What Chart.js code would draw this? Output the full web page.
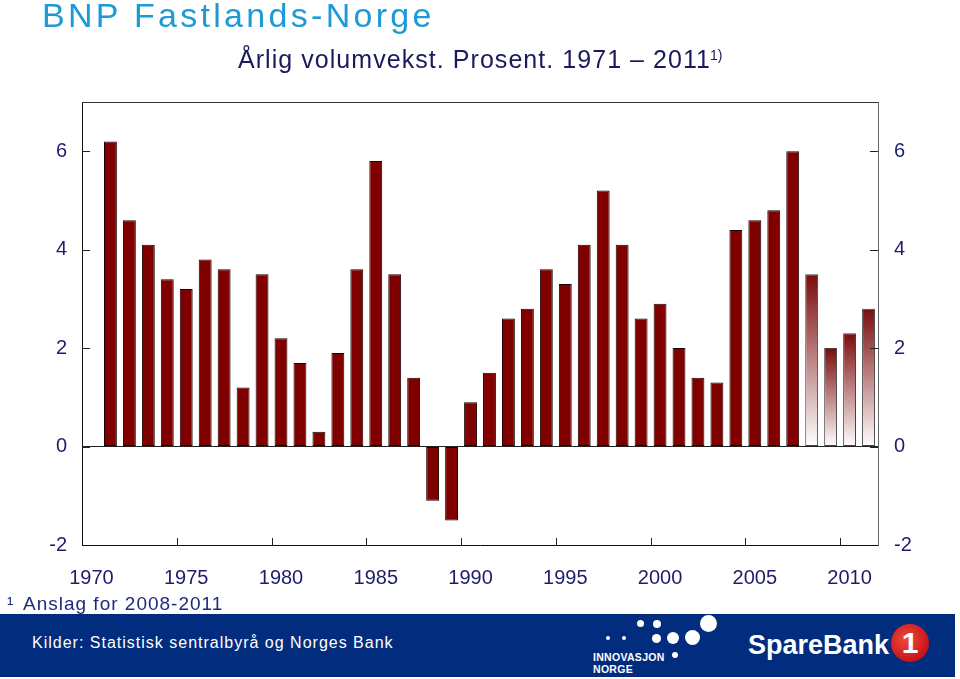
<!DOCTYPE html>
<html>
<head>
<meta charset="utf-8">
<script src="https://cdn.jsdelivr.net/npm/chart.js@4.4.1/dist/chart.umd.min.js"></script>
<style>
  html, body { margin: 0; padding: 0; background: #fff; }
  #wrap { position: relative; width: 960px; height: 679px; overflow: hidden; background: #fff; }
  #c { position: absolute; left: 0; top: 0; }
  .t { position: absolute; white-space: nowrap; font-family: "Liberation Sans", Arial, sans-serif; line-height: 1; }
  #title { left: 42px; top: -2px; font-size: 34px; color: #1c9ad6; letter-spacing: 3.3px; }
  #sub { left: 238px; top: 47px; font-size: 25px; color: #1a1a5c; letter-spacing: 1.05px; }
  #sup { left: 710px; top: 48px; font-size: 14px; color: #1a1a5c; }
  #foot1 { left: 7px; top: 594px; font-size: 19px; color: #1b2c7c; }
  #foot2 { left: 23px; top: 594px; font-size: 19px; color: #1b2c7c; letter-spacing: 1px; }
  #band { position: absolute; left: 0; top: 614px; width: 955px; height: 63px; background: #022c7e; }
  #src { left: 32px; top: 635px; font-size: 16px; color: #fff; letter-spacing: 1px; }
  .dot { position: absolute; background: #fff; border-radius: 50%; }
  #inno1 { left: 593px; top: 652px; font-size: 10.5px; font-weight: bold; color: #fff; letter-spacing: 0.3px; }
  #inno2 { left: 593px; top: 664px; font-size: 10.5px; font-weight: bold; color: #fff; letter-spacing: 0.3px; }
  #spare { left: 748px; top: 632px; font-size: 27px; font-weight: bold; color: #fff; }
  #one { position: absolute; left: 891px; top: 624px; width: 38px; height: 38px; border-radius: 50%;
         background: radial-gradient(circle at 40% 40%, #f04a3a, #c8141a 70%, #a50f14);
         color: #fff; font-family: "Liberation Sans", Arial, sans-serif; font-weight: bold; font-size: 30px;
         text-align: center; line-height: 38px; }
</style>
</head>
<body>
<div id="wrap">
  <canvas id="c" width="960" height="679"></canvas>
  <div class="t" id="title">BNP Fastlands-Norge</div>
  <div class="t" id="sub">Årlig volumvekst. Prosent. 1971 – 2011</div>
  <div class="t" id="sup">1)</div>
  <div class="t" id="foot1">¹</div>
  <div class="t" id="foot2">Anslag for 2008-2011</div>
  <div id="band"></div>
  <div class="t" id="src">Kilder: Statistisk sentralbyrå og Norges Bank</div>
  <div class="dot" style="left:606px;top:636px;width:4px;height:4px"></div>
  <div class="dot" style="left:622px;top:636px;width:4px;height:4px"></div>
  <div class="dot" style="left:637px;top:620px;width:7px;height:7px"></div>
  <div class="dot" style="left:653px;top:620px;width:8px;height:8px"></div>
  <div class="dot" style="left:652px;top:634px;width:9px;height:9px"></div>
  <div class="dot" style="left:667px;top:632px;width:12px;height:12px"></div>
  <div class="dot" style="left:685px;top:630px;width:15px;height:15px"></div>
  <div class="dot" style="left:700px;top:615px;width:17px;height:17px"></div>
  <div class="dot" style="left:672px;top:652px;width:6px;height:6px"></div>
  <div class="t" id="inno1">INNOVASJON</div>
  <div class="t" id="inno2">NORGE</div>
  <div class="t" id="spare">SpareBank</div>
  <div id="one">1</div>
</div>
<script>
// ---- data ----
const years = [];
for (let y = 1970; y <= 2011; y++) years.push(y);
const growth = [null,
  6.2, 4.6, 4.1, 3.4, 3.2,
  3.8, 3.6, 1.2, 3.5, 2.2,
  1.7, 0.3, 1.9, 3.6, 5.8,
  3.5, 1.4, -1.1, -1.5, 0.9,
  1.5, 2.6, 2.8, 3.6, 3.3,
  4.1, 5.2, 4.1, 2.6, 2.9,
  2.0, 1.4, 1.3, 4.4, 4.6,
  4.8, 6.0, 3.5, 2.0, 2.3,
  2.8];
const estimateYears = [2008, 2009, 2010, 2011];
const yTicks = [-2, 0, 2, 4, 6];

const tickFont = { family: '"Liberation Sans Narrow", "Arial Narrow", "Liberation Sans", Arial, sans-serif', size: 20 };
const tickColor = '#1d1d6b';

function barFill(ctx) {
  const i = ctx.dataIndex;
  if (!estimateYears.includes(years[i])) return '#800000';
  const chart = ctx.chart;
  const ys = chart.scales && chart.scales.y;
  if (!ys || !chart.chartArea || growth[i] == null) return '#800000';
  const top = ys.getPixelForValue(growth[i]);
  const bot = ys.getPixelForValue(0);
  const g = chart.ctx.createLinearGradient(0, top, 0, bot);
  g.addColorStop(0, '#7a0c0c');
  g.addColorStop(1, '#ffffff');
  return g;
}

const framePlugin = {
  id: 'frame',
  afterDraw(chart) {
    const { ctx, chartArea: a, scales } = chart;
    ctx.save();
    ctx.lineWidth = 1;
    ctx.strokeStyle = '#333';
    ctx.beginPath();
    ctx.moveTo(a.left, a.top + 0.5);
    ctx.lineTo(a.right, a.top + 0.5);
    ctx.stroke();
    ctx.strokeStyle = '#222';
    yTicks.forEach(v => {
      if (v === -2) return;
      const p = Math.round(scales.y.getPixelForValue(v)) + 0.5;
      ctx.beginPath();
      ctx.moveTo(a.left, p); ctx.lineTo(a.left + 8, p);
      ctx.moveTo(a.right, p); ctx.lineTo(a.right - 8, p);
      ctx.stroke();
    });
    years.forEach((yr, i) => {
      if (i === 0 || yr % 5 !== 0) return;
      const p = Math.round((scales.x.getPixelForValue(i) + scales.x.getPixelForValue(i - 1)) / 2) + 0.5;
      ctx.beginPath();
      ctx.moveTo(p, a.bottom); ctx.lineTo(p, a.bottom - 7);
      ctx.stroke();
    });
    ctx.restore();
  }
};

new Chart(document.getElementById('c'), {
  type: 'bar',
  data: {
    labels: years.map(String),
    datasets: [{
      data: growth,
      backgroundColor: barFill,
      borderColor: ctx => estimateYears.includes(years[ctx.dataIndex]) ? '#444' : '#1a0000',
      borderWidth: 1,
      borderSkipped: false,
      barPercentage: 0.68,
      categoryPercentage: 1.0
    }]
  },
  options: {
    responsive: false,
    animation: false,
    devicePixelRatio: 1,
    layout: { padding: { top: 102, left: 0, right: 0, bottom: 94 } },
    plugins: { legend: { display: false }, tooltip: { enabled: false }, title: { display: false } },
    scales: {
      x: {
        type: 'category',
        offset: true,
        grid: { display: false, drawTicks: false },
        border: { display: true, color: '#111', width: 1 },
        ticks: {
          autoSkip: false, maxRotation: 0, minRotation: 0, padding: 21,
          color: tickColor, font: tickFont,
          callback: (v, i) => (years[i] % 5 === 0 ? String(years[i]) : '')
        },
        afterFit: s => { s.height = 40; }
      },
      y: {
        position: 'left',
        min: -2, max: 7,
        grid: {
          drawTicks: false,
          color: ctx => (ctx.tick && ctx.tick.value === 0 ? '#222' : 'rgba(0,0,0,0)')
        },
        border: { display: true, color: '#111', width: 1 },
        ticks: {
          stepSize: 2, includeBounds: false, padding: 15,
          color: tickColor, font: tickFont,
          callback: v => (yTicks.includes(v) ? String(v) : '')
        },
        afterFit: s => { s.width = 82; }
      },
      y2: {
        position: 'right',
        min: -2, max: 7,
        grid: { display: false, drawTicks: false },
        border: { display: true, color: '#666', width: 1 },
        ticks: {
          stepSize: 2, includeBounds: false, padding: 16,
          color: tickColor, font: tickFont,
          callback: v => (yTicks.includes(v) ? String(v) : '')
        },
        afterFit: s => { s.width = 82; }
      }
    }
  },
  plugins: [framePlugin]
});
</script>
</body>
</html>
